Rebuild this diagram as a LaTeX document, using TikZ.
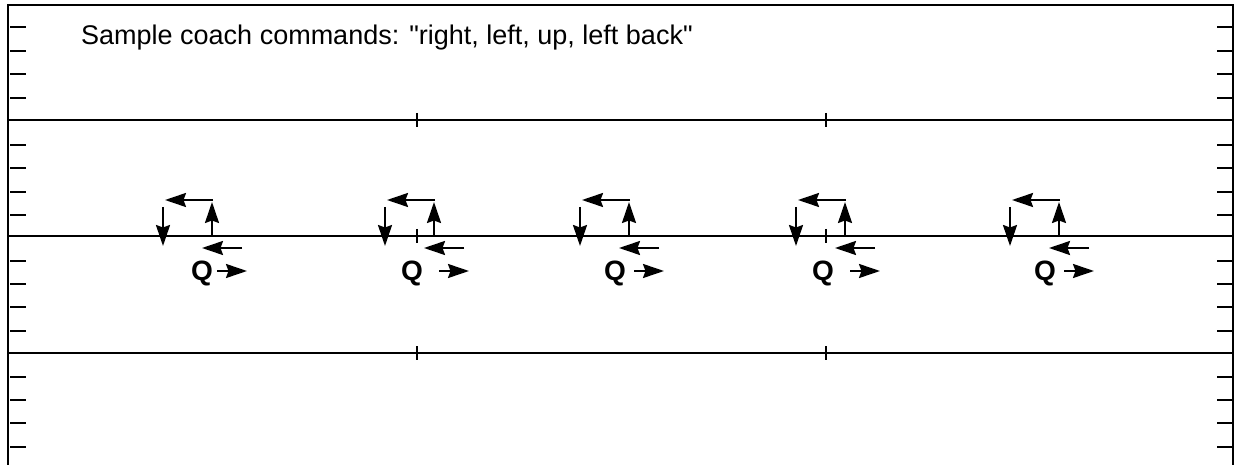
\documentclass[tikz,border=0pt]{standalone}
\usepackage{fontspec}
\setmainfont{Liberation Sans}
\newfontfamily\plainquotes{Liberation Sans}[Ligatures=TeXOff]
\usetikzlibrary{arrows.meta}
\tikzset{
  field/.style={line width=1.8pt, black},
  hash/.style={line width=1.8pt, black},
  move/.style={line width=2.2pt, -{Stealth[length=21pt,width=14pt,inset=2.5pt]}},
  qb/.style={font=\fontsize{28}{28}\selectfont\bfseries, anchor=base, inner sep=0pt},
  caption/.style={font=\plainquotes\fontsize{27}{30}\selectfont, anchor=base west, inner sep=0pt}
}
% one set of coach moves: #1 = x of the down arrow, #2 = offset of the Q
\newcommand\drillset[2]{%
  \begin{scope}[xshift=#1pt]
    \coordinate (dA) at (0,207);  \coordinate (dB) at (0,246);
    \coordinate (tA) at (50,200); \coordinate (tB) at (2,200);
    \coordinate (uA) at (49,235); \coordinate (uB) at (49,202);
    \coordinate (lA) at (79,248); \coordinate (lB) at (39,248);
    \coordinate (rA) at (54,271); \coordinate (rB) at (84,271);
    \node[qb] (q) at (#2,280) {Q};
    \draw[move] (dA) -- (dB);
    \draw[move] (tA) -- (tB);
    \draw[move] (uA) -- (uB);
    \draw[move] (lA) -- (lB);
    \draw[move] (rA) -- (rB);
  \end{scope}}
\begin{document}
\begin{tikzpicture}[x=1pt,y=-1pt]
  \useasboundingbox (0,0) rectangle (1235,465);
  % sidelines and top edge
  \coordinate (tl) at (8,5);   \coordinate (tr) at (1233,5);
  \coordinate (bl) at (8,466); \coordinate (br) at (1233,466);
  \draw[field] (bl) -- (tl) -- (tr) -- (br);
  % yard lines
  \foreach \y in {120,236,353} {
    \coordinate (ya) at (8,\y); \coordinate (yb) at (1233,\y);
    \draw[field] (ya) -- (yb);
    \foreach \x in {417,826} \draw[hash] (\x,\y-7) -- (\x,\y+7);
  }
  % hash marks along both sidelines
  \foreach \y in {27,51,74,98,145,168,192,215,261,284,307,331,377,400,423,447} {
    \draw[hash] (10,\y) -- (26,\y);
    \draw[hash] (1217,\y) -- (1233,\y);
  }
  \node[caption] (cap) at (81,45) {Sample coach commands: "right, left, up, left back"};
  \drillset{163}{39}
  \drillset{385}{27}
  \drillset{580}{35}
  \drillset{796}{27}
  \drillset{1010}{35}
\end{tikzpicture}
\end{document}
